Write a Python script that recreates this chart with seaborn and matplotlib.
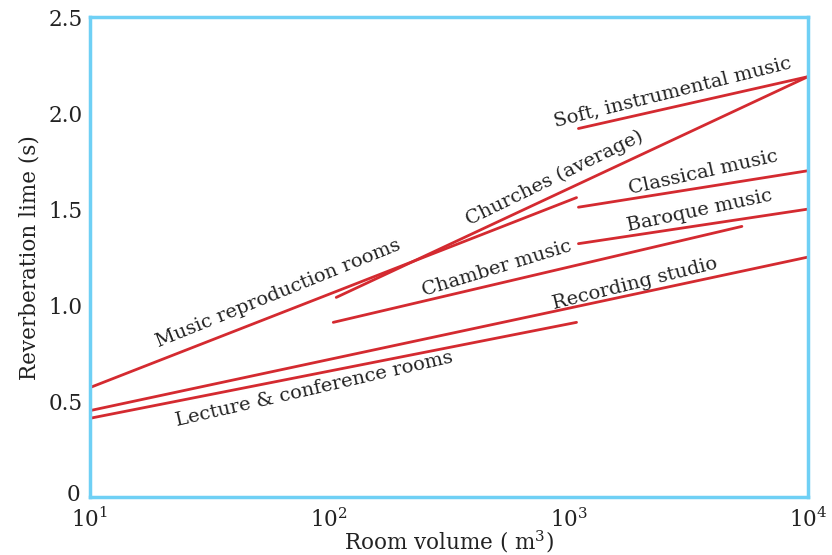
import pandas as pd
import numpy as np
import matplotlib
matplotlib.use("Agg")
import matplotlib.pyplot as plt
import matplotlib.transforms as mtransforms
import seaborn as sns

# room types: start/end volume (m^3) and reverberation time (s)
rooms = ["Music reproduction rooms", "Churches (average)", "Soft, instrumental music",
         "Classical music", "Baroque music", "Chamber music", "Recording studio",
         "Lecture & conference rooms"]
vol_start = [10, 107, 1100, 1100, 1100, 104, 10, 10]
vol_end = [1080, 10000, 10000, 10000, 10000, 5300, 10000, 1080]
rt_start = [0.57, 1.04, 1.92, 1.51, 1.32, 0.91, 0.45, 0.41]
rt_end = [1.56, 2.19, 2.19, 1.70, 1.50, 1.41, 1.25, 0.91]

# where the labels sit (data coords) and their angle on screen
label_x = [61, 877, 2730, 3650, 3540, 500, 1890, 87]
label_y = [1.06, 1.66, 2.11, 1.69, 1.49, 1.19, 1.11, 0.56]
label_rot = [22, 26, 14, 12.5, 12, 17, 14, 13]

y_ticks = [0, 0.5, 1.0, 1.5, 2.0, 2.5]
y_ticklabels = ["0", "0.5", "1.0", "1.5", "2.0", "2.5"]
x_ticks = [10, 100, 1000, 10000]

rows = []
for name, v0, v1, t0, t1 in zip(rooms, vol_start, vol_end, rt_start, rt_end):
    rows.append({"room": name, "volume": v0, "rt": t0})
    rows.append({"room": name, "volume": v1, "rt": t1})
df = pd.DataFrame(rows)

sns.set_style("white")
plt.rcParams["font.family"] = ["DejaVu Serif"]
plt.rcParams["mathtext.fontset"] = "dejavuserif"

red = "#d42a30"
blue = "#6fd0f5"
ink = "#222222"

fig = plt.figure(figsize=(8.32, 5.55), dpi=100)
ax = fig.add_axes([0.108, 0.1045, 0.863, 0.8645])

sns.lineplot(data=df, x="volume", y="rt", hue="room", units="room", estimator=None,
             palette=[red] * len(rooms), legend=False, linewidth=2, ax=ax, sort=False)

ax.set_xscale("log")
ax.set_xlim(10, 10000)
ax.set_ylim(0, 2.5)
ax.set_xticks(x_ticks)
ax.set_xticklabels([r"$10^{%d}$" % int(np.log10(v)) for v in x_ticks], fontsize=15.5)
ax.minorticks_off()
ax.set_yticks(y_ticks)
ax.set_yticklabels(y_ticklabels, fontsize=15.5)
ax.tick_params(axis="both", direction="inout", length=6, width=0.8, color=ink,
               labelcolor=ink, pad=2)
ax.tick_params(axis="x", pad=5)

# nudge the "0" label up a little so it clears the 10^1 label
zero_lbl = ax.get_yticklabels()[0]
zero_lbl.set_transform(zero_lbl.get_transform() +
                       mtransforms.ScaledTranslation(-2 / 72, 3 / 72, fig.dpi_scale_trans))

for s in ax.spines.values():
    s.set_color(blue)
    s.set_linewidth(2.5)

ax.set_xlabel(r"Room volume ( m$^3$)", fontsize=15.5, color=ink, labelpad=-3)
ax.set_ylabel("Reverberation lime (s)", fontsize=15.5, color=ink, labelpad=6)

for name, lx, ly, rot in zip(rooms, label_x, label_y, label_rot):
    ax.text(lx, ly, name, rotation=rot, rotation_mode="anchor", ha="center",
            va="center", fontsize=14, color=ink)

fig.savefig("out.png", dpi=100)
